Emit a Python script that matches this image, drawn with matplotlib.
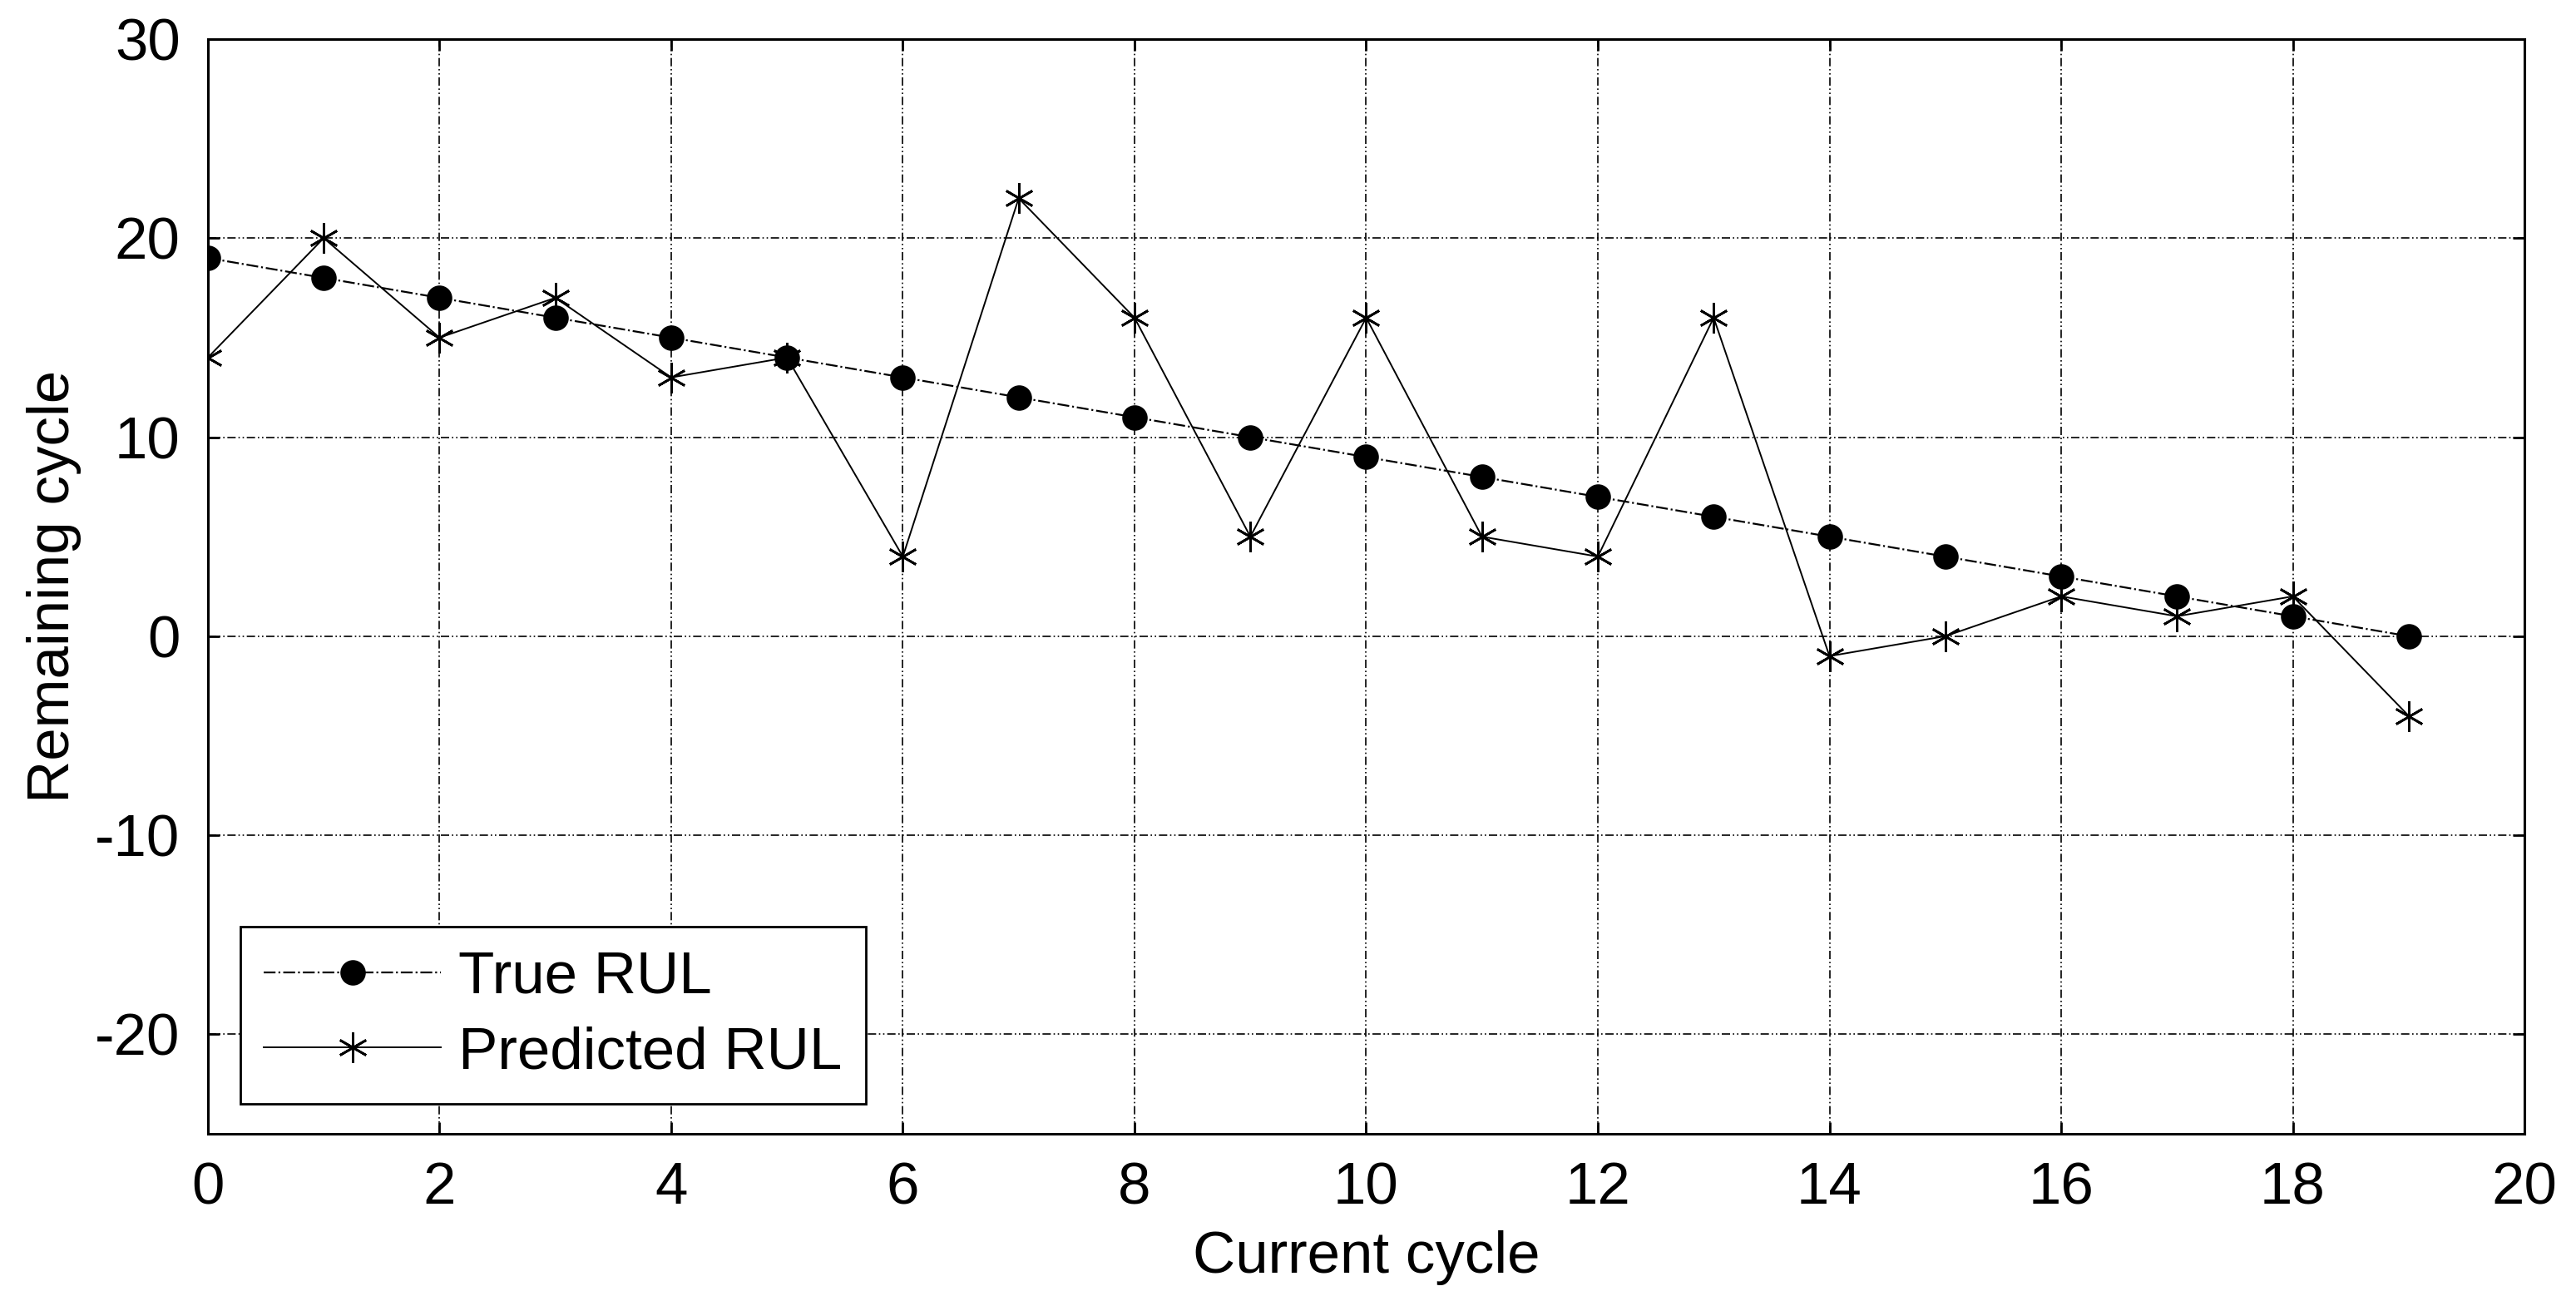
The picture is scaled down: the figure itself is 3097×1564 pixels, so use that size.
import numpy as np
import matplotlib
matplotlib.use("Agg")
import matplotlib.pyplot as plt

# data
cycles = list(range(20))
true_rul = [19, 18, 17, 16, 15, 14, 13, 12, 11, 10, 9, 8, 7, 6, 5, 4, 3, 2, 1, 0]
pred_rul = [14, 20, 15, 17, 13, 14, 4, 22, 16, 5, 16, 5, 4, 16, -1, 0, 2, 1, 2, -4]
x_ticks = list(range(0, 21, 2))
y_ticks = [-20, -10, 0, 10, 20, 30]

plt.rcParams["font.family"] = ["Liberation Sans", "DejaVu Sans"]
plt.rcParams["font.size"] = 25.5
plt.rcParams["axes.unicode_minus"] = False

fig = plt.figure(figsize=(15.485, 7.82), dpi=200)
ax = fig.add_axes([0.0807, 0.1285, 0.980 - 0.0807, 0.970 - 0.1285])

asterisk = (6, 2, 0)
ax.plot(cycles, true_rul, color="black", linestyle="-.", linewidth=0.8,
        marker="o", markersize=10, markerfacecolor="black", markeredgecolor="black",
        label="True RUL", zorder=3)
ax.plot(cycles, pred_rul, color="black", linestyle="-", linewidth=0.7,
        marker=asterisk, markersize=13, markeredgewidth=1.0, markeredgecolor="black",
        label="Predicted RUL", zorder=3)

ax.set_xlim(0, 20)
ax.set_ylim(-25, 30)
ax.set_xticks(x_ticks)
ax.set_yticks(y_ticks)
ax.grid(True, color="black", linestyle=(0, (6, 2, 1, 2, 1, 2)), linewidth=0.6)
ax.tick_params(direction="in", length=5, width=1, top=True, right=True, pad=12)
for s in ax.spines.values():
    s.set_linewidth(1.1)

ax.set_xlabel("Current cycle", labelpad=6)
ax.set_ylabel("Remaining cycle", labelpad=6)

leg = ax.legend(loc="lower left", bbox_to_anchor=(0.014, 0.027), borderaxespad=0,
                fancybox=False, framealpha=1, edgecolor="black",
                handlelength=3.0, handletextpad=0.3, labelspacing=0.35,
                borderpad=0.4)
leg.get_frame().set_linewidth(1.0)

fig.savefig("out.png", dpi=200)
